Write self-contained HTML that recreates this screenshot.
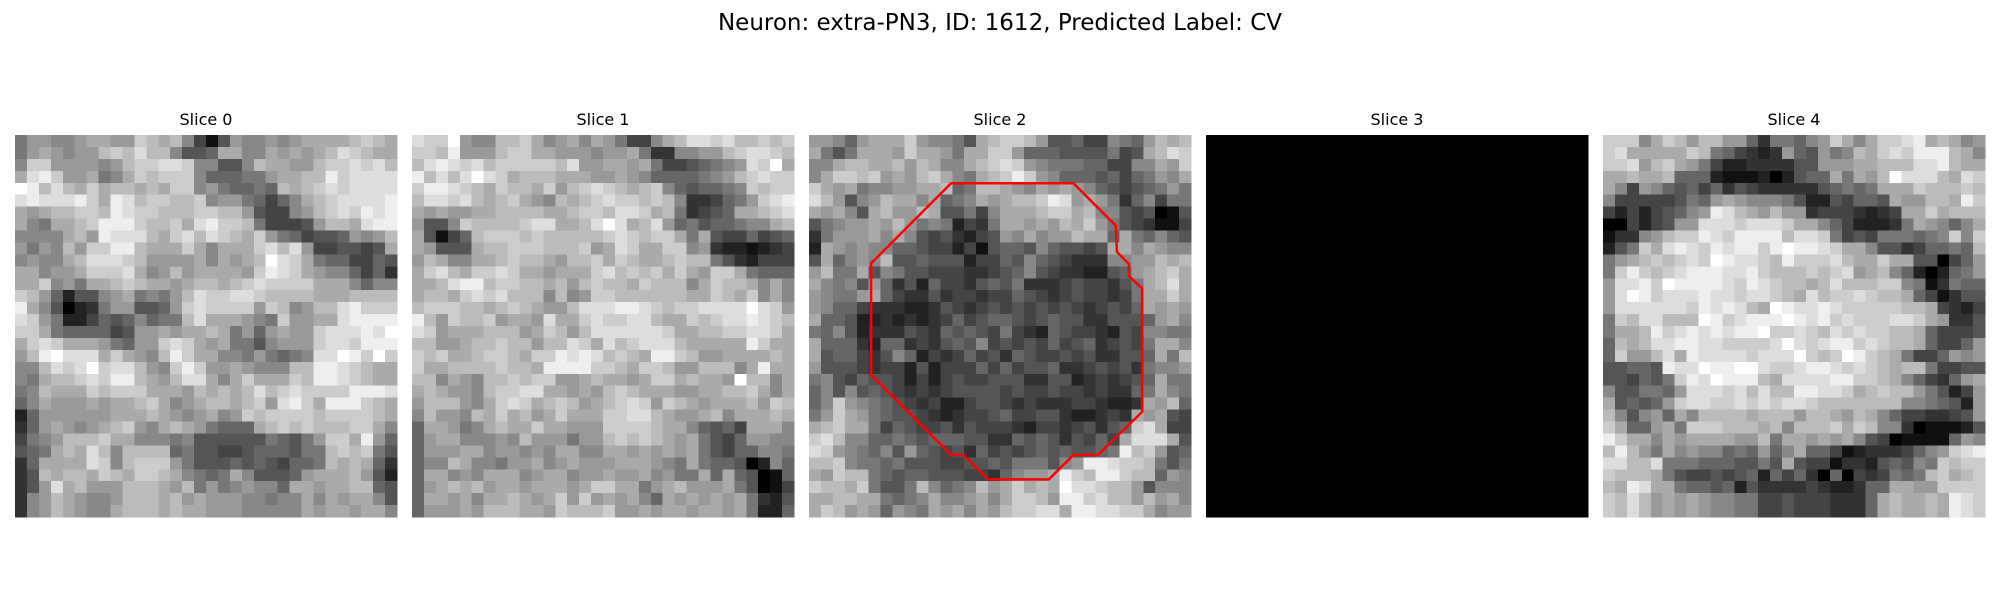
<!DOCTYPE html>
<html><head><meta charset="utf-8">
<style>
html,body{margin:0;padding:0;background:#fff;}
body{width:2000px;height:600px;overflow:hidden;}
svg{display:block;}
</style></head>
<body>
<svg id="fig" width="2000" height="600" xmlns="http://www.w3.org/2000/svg">
<text x="1000" y="30" text-anchor="middle" font-family="DejaVu Sans, Liberation Sans, sans-serif" font-size="23" fill="#000">Neuron: extra-PN3, ID: 1612, Predicted Label: CV</text>
</svg>
<script>
const sliceTitles = ["Slice 0","Slice 1","Slice 2","Slice 3","Slice 4"];
const slice0 = [
"799889aa99cbab8415988989aaaabcba","79a9899bcbdbb855 6aa88a9a9abdcba","8cc999989bccddc8855 8baa99bccdcdb",
"ade c99a78acbccc8666779aabbecdddde","febdbacabbabacc89766 76babcdcdddd","deddde caedbccbbc8997646 8abcddddee",
"a9abbccbedccbbbccbb9544 89bcdcede","a87aabceeecbbcadeccb7444 59bbadee","8888ab9eddd bacdbdcbac97645569 89b",
"97 98b9cceebaaaca8aaacdbd9445545a","898 8abdddcb9999a8a9abfdca7664465","aa899accc da89b9aaaa9cedca98864 63",
"aac897aabcbaa9abbabcdccccaaa8688","cb9625589a787 9bdccddcbbbbaaabbbb","ea85023799556 9cdcccc9cb89bbdeccc",
"dc972246568677bdaaa987c99aadeeee","cca76666459 9a9aaba7969a99cddded f","acdcaaa9769 9cdca9a7758999cddceeed",
"9befddda ca98becaa88797678ddfecfcb","88bdcdfcddb98cec99a9888bbeedcbaa","87abbcdceeba9bdda8acaaacbeedcbaa",
"78baaacbcccaaa9bab abdbcdcccceeeda","68a999a9aabca89abbabc9deca eeecba","26999999aaaba989a89cbccccbccccba",
"369a989abc98aba9766 6abcbcbbbcca8","4789bbbcaa8887855555 57657 9cca e96","567aba db8bbbb675544566657 7bcbc75",
"36aaaadc8bccc97555656546 67bab a63","35babbacbaccba8767a8555 69aaab952","359dab999bbba9b797898 86aa9aabb65",
"389ba988 9bbbab9a9998878 8a8a9aa85","389ba988abbbabaa99988888a9aa9aa85"];
const slice1 = [
"dccf988bbca89a8a97448abddcdbbcbc","ccbe999bccaa999899a7338899bcddcb","bdedcdbcccccbd99aa9a74456789dcfa",
"ebdbdfdcabbbaaa99a986666789bcdcc","ceedcbacbbac9bcdcbabc8656678cbcc","bddcdbabca98babcdccbcb8334679cde",
"a9a99aabbbbaabccbddcab73456aabcd","9558cbbbbcddaabdfdabd967566788ab","a5146bcccbcbbbbbcdcbcca7a5446456",
"a9555abbcccbbbc9adcaacc893221234","9ba88aabcbba9bbcacbaabcbb7532444","acdbaccdcaa9aaacdbcbcaca9cca7666",
"aabdeebccbbab9bcbbacbbb8acbba8a8","abbacdcdbbb8b89ccbbbbbbaacbac8a8","bcccbbabcba99bdddeedcbccddddfdc9",
"eb9cbbc9aa9daacdccddbaacbcddedcb","dc9aaabbb9acb9bddddddcaabbccddca","bb99abbcbb9bbdcadbcdddbaaaaaecaa",
"cbcaabccbaccededbcbaeecb99aaaaba","caabbbbcbbaeeeeccbaccb99bbb8aeaa","bb8a98bbcbcc99abaa9accabaa9fbb8a",
"aba998bccddaa9a9bcbaaa99aabbca8a","9bbb98acdcabcb9abcdc9cba9aaab9cb","8b998bacab9acaaaccddba99ab8aaaba",
"6aa978abaacaa999ccccbaa86564aaa8","69aa88898b999799bcbcba9a75469988","6999aa899898aa88aa9a9a9a75466887",
"688ba88799a89a999aaa987a76650286","6aa898aaa89aa899a99a8977a6a65016","69abab9aa9aaa9accaa79ab999a75014",
"6aa9a8aaba9ac9c9a9a86a9a9a9a7325","6999a9bbbaa9cbbbc99a9aa9aa9a7226"];
const slice2 = [
"99869aaac98875abccb9556448769bab","a757aaa9caa97aacc96665555745abdc","88abbaab9ba88abcdc98777664488a9c",
"8accbc9a9bca87abcec986665646798a","ca9a78899aab67bba98a9a9865456797","db9589baa8a678a9abbced9a9736847 7",
"a9a85ab99ba557 48aaabcc ab88545015","57899a9b97872437aa9a9bac97543114","3799 9a8a854532459 8a899baa6a76865",
"2a98988665442415665865545aa8a988","5a6898b5565552446586543338899bab","9b77a587554443345685433225 69abca",
"a87859635264435 6573334544357abda","98779a64335344344654345443 47aaca","98664333223543454545454345 46a9a9",
"a665223232346456654565533555 69a8","768523335436565474326544325488 77","a6663266343565845454645634547aa8",
"a5664358624346453654454533556a7b","95554344252444646455633454537889","785465542424544555335523434 56a77",
"685856543434555545445443433 67a87","68c987654342245543433344322 3a9b6","79ca97655432344564455322343a9a54",
"abcaa7465445354443244345356cda44","cdb8866765666553365653546 4addda56","dc98768596545364545656556 7ebc956",
"bbc877675554455657775 89eedccb757","a9cbb7656655544368 9 9aecbeecbb698","cbbac7557b8678b9acabafddcbb95888",
"aabbaa76 78a889a8accb9eecdbb9b9a8","acb9a9698 7a9a8a9bccdda eeddcca899"];
const slice3 = [];
for (let r = 0; r < 32; r++) slice3.push("00000000000000000000000000000000");
const slice4 = [
"ccc8acb9bb996377689ca8accdeaba89","cdaaaaacb764323965978bacdceeeba8","ccd9bca97422333355999aabbbddebaa",
"aabaab6662111202566a7a9bfdddbadc","a8498656463543333356767aaacbbbcb","8444445769a9888752254665a99bbaec",
"424245689edba9b9934443234aacabbb","00424599dddcdddcaa86422237a9868a","13389bccedceeeebddc7454777678c8c",
"257cadedcedeecefeedcaa855346676b","79abcbcdcfeddcbecccdbaacaa550469","7cecbcdeeeddecbbbcbcd9ab86202679",
"9ddecfeeeedcedcbbabdbbbcc8713766","9dfecdddeddcddcbadbccdcbba641355","9ddddddcededbafeddedcccccbba4324",
"7cbddbbbfecdeeefedecdcccddca9335","7aabecdededeefccdcbdcdccbba64445","6babddeeddccccdfdcdeecdcbba64469",
"6c99bdaeddddcdddfcbcfecba7446989","55665eddfeeffdccdeedcdcbabb74455","554657cedfeeebaddddeeccba864369a",
"8557769dddcdbdbbeeddcabcbb97524 9","a56569cddccdcdcddcbbbbbbb8876529","b858 96a8bbbbabbb9bba9ba864433459",
"ca669a7cccbbbab8bbbcacb883011125","ecaa8a9aaaa99b7aa9a9a85401111698","beb97a8988676968a664123334689cde",
"ddbbd7776665575a54413325658 7cbcc","cbbba7544545626463060434767bcabc","baedaa76656253333432236 6aa99cccc",
"cbdb9a9a98877445444333 6abaabaedc","cbdb9a9a98877445444333 6abaabaedc"];
const slices = [slice0, slice1, slice2, slice3, slice4];
// contour vertices on slice 2, in pixel-grid units
const contourX = [11.9,22.15,25.7,25.8,26.8,26.8,27.9,27.9,24.2,22.15,20.1,15.0,12.9,11.9,5.2,5.2];
const contourY = [4.05,4.05,7.6,9.8,10.8,11.8,12.85,23.2,26.8,26.8,28.85,28.85,26.8,26.8,20.1,10.75];

const NS = "http://www.w3.org/2000/svg";
const svg = document.getElementById("fig");
const panelLeft = 15, panelStep = 397, panelTop = 135, panelSize = 382, N = 32;
const cell = panelSize / N;
function norm(row){ let s = row.replace(/[^0-9a-f]/gi,""); while (s.length < N) s += s[s.length-1] || "0"; return s.slice(0, N); }
function px(i, c){ return panelLeft + i*panelStep + c*cell; }
function py(r){ return panelTop + r*cell; }

slices.forEach((rows, i) => {
  const g = document.createElementNS(NS, "g");
  
  
  g.setAttribute("shape-rendering", "crispEdges");
  for (let r = 0; r < N; r++) {
    const s = norm(rows[r] || "0");
    for (let c = 0; c < N; c++) {
      const v = parseInt(s[c], 16) * 17;
      const rect = document.createElementNS(NS, "rect");
      rect.setAttribute("x", px(i, c).toFixed(2));
      rect.setAttribute("y", py(r).toFixed(2));
      rect.setAttribute("width", (cell + 0.6).toFixed(2));
      rect.setAttribute("height", (cell + 0.6).toFixed(2));
      rect.setAttribute("fill", "rgb(" + v + "," + v + "," + v + ")");
      g.appendChild(rect);
    }
  }
  svg.appendChild(g);
  const t = document.createElementNS(NS, "text");
  
  
  t.setAttribute("x", (panelLeft + i*panelStep + panelSize/2).toFixed(1));
  t.setAttribute("y", "125");
  t.setAttribute("text-anchor", "middle");
  t.setAttribute("font-family", "DejaVu Sans, Liberation Sans, sans-serif");
  t.setAttribute("font-size", "16");
  t.textContent = sliceTitles[i];
  svg.appendChild(t);
});

const poly = document.createElementNS(NS, "polygon");


poly.setAttribute("points", contourX.map((x, k) => px(2, x).toFixed(1) + "," + py(contourY[k]).toFixed(1)).join(" "));
poly.setAttribute("fill", "none");
poly.setAttribute("stroke", "#ff0000");
poly.setAttribute("stroke-width", "2.5");
svg.appendChild(poly);
</script>
</body></html>
